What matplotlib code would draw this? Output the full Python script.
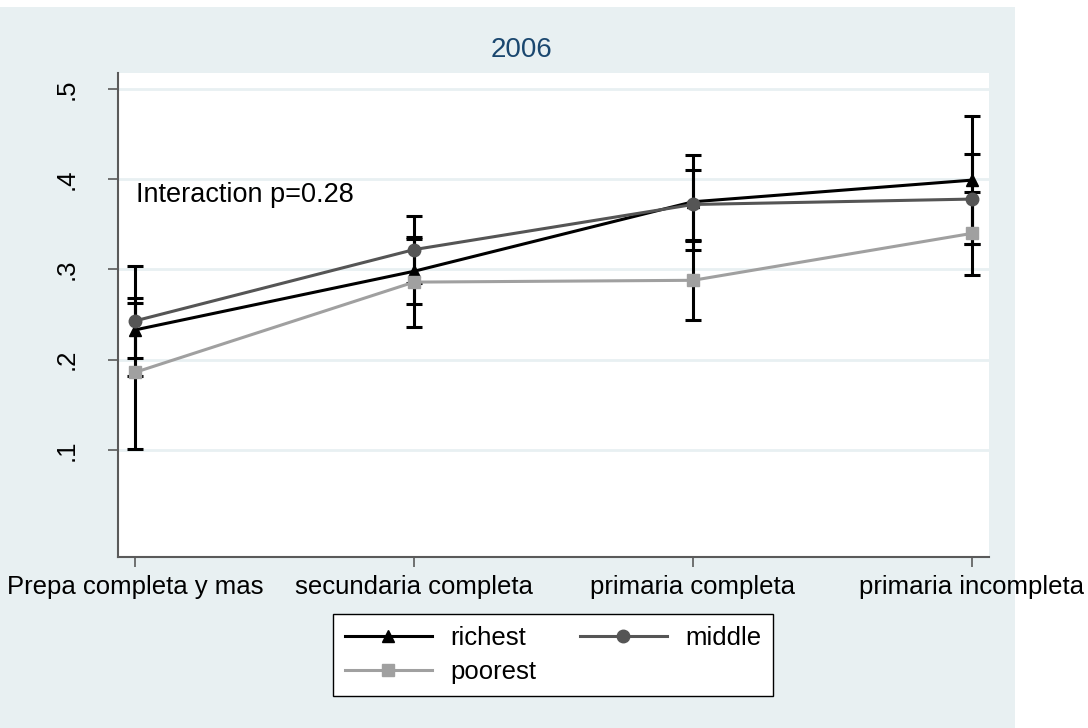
import matplotlib.pyplot as plt
import numpy as np

plt.rcParams['font.family'] = ['Liberation Sans', 'DejaVu Sans']

# Education level categories (x axis)
categories = ["Prepa completa y mas", "secundaria completa",
              "primaria completa", "primaria incompleta"]

# Predicted proportions with 95% CIs, by wealth group
richest = [0.233, 0.298, 0.375, 0.399]
richest_lo = [0.202, 0.262, 0.322, 0.328]
richest_hi = [0.263, 0.334, 0.427, 0.470]

middle = [0.243, 0.322, 0.372, 0.378]
middle_lo = [0.182, 0.285, 0.333, 0.328]
middle_hi = [0.304, 0.359, 0.410, 0.428]

poorest = [0.186, 0.286, 0.288, 0.340]
poorest_lo = [0.101, 0.236, 0.244, 0.294]
poorest_hi = [0.268, 0.336, 0.332, 0.386]

yticks = [0.1, 0.2, 0.3, 0.4, 0.5]
yticklabels = [".1", ".2", ".3", ".4", ".5"]

title = "2006"
note = "Interaction p=0.28"

GRAPH_BG = "#e8f0f2"
AXIS_COL = "#5a5a5a"

fig = plt.figure(figsize=(10.88, 7.28), dpi=100)
fig.patch.set_facecolor("white")
# Light graph region behind everything
fig.patches.append(plt.Rectangle((0, 0), 1015 / 1088, 1 - 7 / 728,
                                 transform=fig.transFigure,
                                 facecolor=GRAPH_BG, edgecolor="none",
                                 zorder=-10))

ax = fig.add_axes([118 / 1088, 1 - 557 / 728, 871 / 1088, 484 / 728])
ax.set_facecolor("white")

x = np.arange(len(categories))
series = [
    ("richest", richest, richest_lo, richest_hi, "black", "^"),
    ("middle", middle, middle_lo, middle_hi, "#555555", "o"),
    ("poorest", poorest, poorest_lo, poorest_hi, "#a0a0a0", "s"),
]

# Confidence interval caps first, then connected estimates on top
for name, y, lo, hi, col, mk in series:
    y = np.array(y)
    err = [y - np.array(lo), np.array(hi) - y]
    ax.errorbar(x, y, yerr=err, fmt="none", ecolor="black",
                elinewidth=2.2, capsize=5.5, capthick=2.2, zorder=2)

handles = {}
for name, y, lo, hi, col, mk in series:
    h, = ax.plot(x, y, color=col, lw=2.2, marker=mk, ms=9,
                 markeredgecolor=col, markerfacecolor=col, label=name,
                 zorder=3)
    handles[name] = h

ax.set_xlim(-0.061, 3.061)
ax.set_ylim(-0.0186, 0.5177)

ax.set_yticks(yticks)
ax.set_yticklabels(yticklabels, rotation=90, va="center", fontsize=18.5)
ax.set_xticks(x)
ax.set_xticklabels(categories, fontsize=18.5)
ax.tick_params(axis="y", length=7, width=1.2, color=AXIS_COL, pad=21)
ax.tick_params(axis="x", length=7, width=1.2, color=AXIS_COL, pad=6)

for yv in yticks:
    ax.axhline(yv, color=GRAPH_BG, lw=2, zorder=0)

for side in ["top", "right"]:
    ax.spines[side].set_visible(False)
for side in ["left", "bottom"]:
    ax.spines[side].set_color(AXIS_COL)
    ax.spines[side].set_linewidth(1.5)

ax.text(0.005, 0.3825, note, fontsize=19.5, ha="left", va="center")

fig.text(521 / 1088, 1 - 50 / 728, title, fontsize=20, color="#1a476f",
         ha="center", va="center")

leg = fig.legend([handles["richest"], handles["poorest"], handles["middle"]],
                 ["richest", "poorest", "middle"], ncol=2,
                 loc="center", bbox_to_anchor=(553 / 1088, 1 - 655 / 728),
                 fontsize=18.5, frameon=True, fancybox=False, framealpha=1,
                 handlelength=3.4, handletextpad=0.7, columnspacing=1.7,
                 borderpad=0.45, labelspacing=0.4)
leg.get_frame().set_edgecolor("black")
leg.get_frame().set_linewidth(1.0)
leg.get_frame().set_facecolor("white")

fig.savefig("out.png", dpi=100, facecolor=fig.get_facecolor())
